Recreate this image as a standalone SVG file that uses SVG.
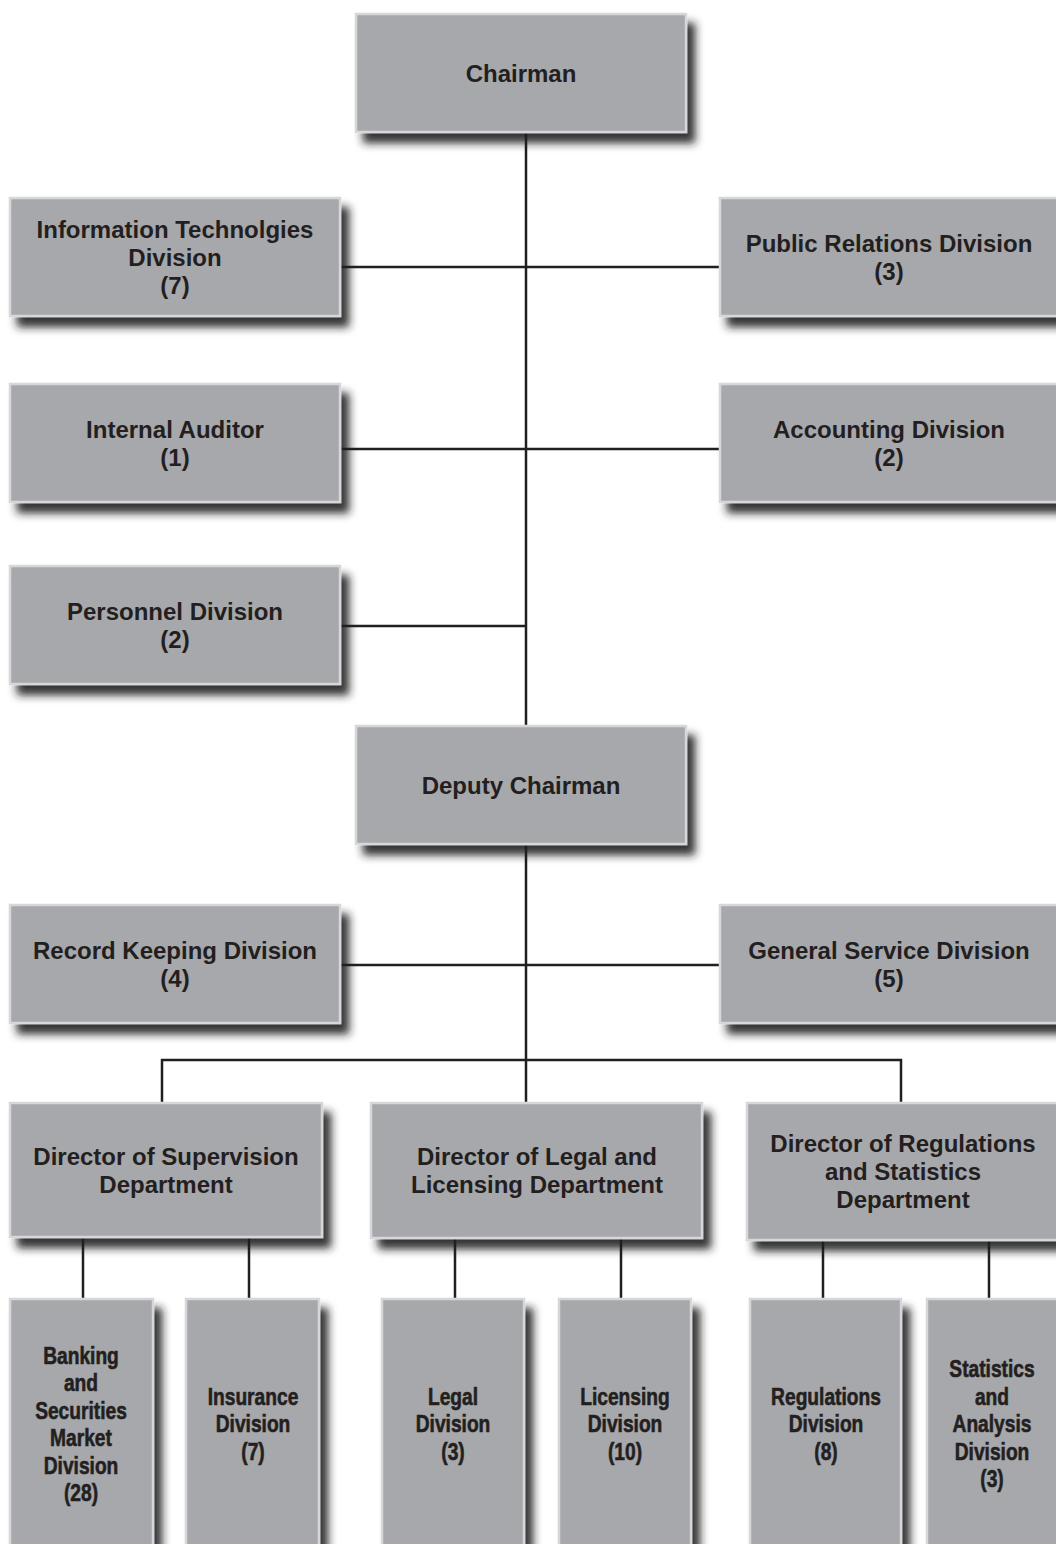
<svg xmlns="http://www.w3.org/2000/svg" width="1056" height="1544" viewBox="0 0 1056 1544">
<defs>
<filter id="sh" x="-10%" y="-10%" width="130%" height="130%">
<feDropShadow dx="8" dy="10" stdDeviation="4.5" flood-color="#1a1a1a" flood-opacity="0.9"/>
</filter>
</defs>
<style>
.box{fill:#a7a8ab;stroke:#d6d7d9;stroke-width:2.5;filter:url(#sh)}
.t{font-family:"Liberation Sans",Arial,sans-serif;font-weight:bold;font-size:24px;fill:#231f20;text-anchor:middle}
.n{font-family:"Liberation Sans",Arial,sans-serif;font-weight:bold;font-size:24px;fill:#231f20;stroke:#231f20;stroke-width:0.6;text-anchor:middle}
.c{stroke:#231f20;stroke-width:2.5;fill:none}
</style>
<rect width="1056" height="1544" fill="#ffffff"/>
<g id="connectors">
<path class="c" d="M526 132V726M340 267H720M340 449H720M340 626H526M526 844V1103M340 965H720M162 1103V1060H901V1103"/>
<path class="c" d="M83 1237V1299M249 1237V1299M455 1238V1299M621 1238V1299M823 1240V1299M989 1240V1299"/>
</g>
<g id="chairman"><rect class="box" x="356" y="14" width="330" height="118"/><text class="t" x="521" y="81.5">Chairman</text></g>
<g id="it"><rect class="box" x="10" y="198" width="330" height="118"/><text class="t" x="175" y="237.5">Information Technolgies</text><text class="t" x="175" y="265.5">Division</text><text class="t" x="175" y="293.5">(7)</text></g>
<g id="pr"><rect class="box" x="720" y="198" width="340" height="118"/><text class="t" x="889" y="251.5">Public Relations Division</text><text class="t" x="889" y="279.5">(3)</text></g>
<g id="auditor"><rect class="box" x="10" y="384" width="330" height="118"/><text class="t" x="175" y="437.5">Internal Auditor</text><text class="t" x="175" y="465.5">(1)</text></g>
<g id="accounting"><rect class="box" x="720" y="384" width="340" height="118"/><text class="t" x="889" y="437.5">Accounting Division</text><text class="t" x="889" y="465.5">(2)</text></g>
<g id="personnel"><rect class="box" x="10" y="566" width="330" height="118"/><text class="t" x="175" y="619.5">Personnel Division</text><text class="t" x="175" y="647.5">(2)</text></g>
<g id="deputy"><rect class="box" x="356" y="726" width="330" height="118"/><text class="t" x="521" y="793.5">Deputy Chairman</text></g>
<g id="record"><rect class="box" x="10" y="905" width="330" height="118"/><text class="t" x="175" y="958.5">Record Keeping Division</text><text class="t" x="175" y="986.5">(4)</text></g>
<g id="general"><rect class="box" x="720" y="905" width="340" height="118"/><text class="t" x="889" y="958.5">General Service Division</text><text class="t" x="889" y="986.5">(5)</text></g>
<g id="dir-supervision"><rect class="box" x="10" y="1103" width="312" height="134"/><text class="t" x="166" y="1164.5">Director of Supervision</text><text class="t" x="166" y="1192.5">Department</text></g>
<g id="dir-legal"><rect class="box" x="371" y="1103" width="331" height="135"/><text class="t" x="537" y="1165">Director of Legal and</text><text class="t" x="537" y="1193">Licensing Department</text></g>
<g id="dir-regulations"><rect class="box" x="747" y="1103" width="313" height="137"/><text class="t" x="903" y="1152">Director of Regulations</text><text class="t" x="903" y="1180">and Statistics</text><text class="t" x="903" y="1208">Department</text></g>
<g id="banking"><rect class="box" x="10" y="1299" width="143" height="270"/><g transform="translate(81 0) scale(0.8 1)"><text class="n" x="0" y="1364">Banking</text><text class="n" x="0" y="1391.5">and</text><text class="n" x="0" y="1419">Securities</text><text class="n" x="0" y="1446.5">Market</text><text class="n" x="0" y="1474">Division</text><text class="n" x="0" y="1501.5">(28)</text></g></g>
<g id="insurance"><rect class="box" x="186" y="1299" width="133" height="270"/><g transform="translate(253 0) scale(0.8 1)"><text class="n" x="0" y="1405">Insurance</text><text class="n" x="0" y="1432.5">Division</text><text class="n" x="0" y="1460">(7)</text></g></g>
<g id="legal"><rect class="box" x="382" y="1299" width="142" height="270"/><g transform="translate(453 0) scale(0.8 1)"><text class="n" x="0" y="1405">Legal</text><text class="n" x="0" y="1432.5">Division</text><text class="n" x="0" y="1460">(3)</text></g></g>
<g id="licensing"><rect class="box" x="559" y="1299" width="132" height="270"/><g transform="translate(625 0) scale(0.8 1)"><text class="n" x="0" y="1405">Licensing</text><text class="n" x="0" y="1432.5">Division</text><text class="n" x="0" y="1460">(10)</text></g></g>
<g id="regulations"><rect class="box" x="750" y="1299" width="151" height="270"/><g transform="translate(826 0) scale(0.8 1)"><text class="n" x="0" y="1405">Regulations</text><text class="n" x="0" y="1432.5">Division</text><text class="n" x="0" y="1460">(8)</text></g></g>
<g id="statistics"><rect class="box" x="927" y="1299" width="133" height="270"/><g transform="translate(992 0) scale(0.8 1)"><text class="n" x="0" y="1377.5">Statistics</text><text class="n" x="0" y="1405">and</text><text class="n" x="0" y="1432.5">Analysis</text><text class="n" x="0" y="1460">Division</text><text class="n" x="0" y="1487.5">(3)</text></g></g>
</svg>
